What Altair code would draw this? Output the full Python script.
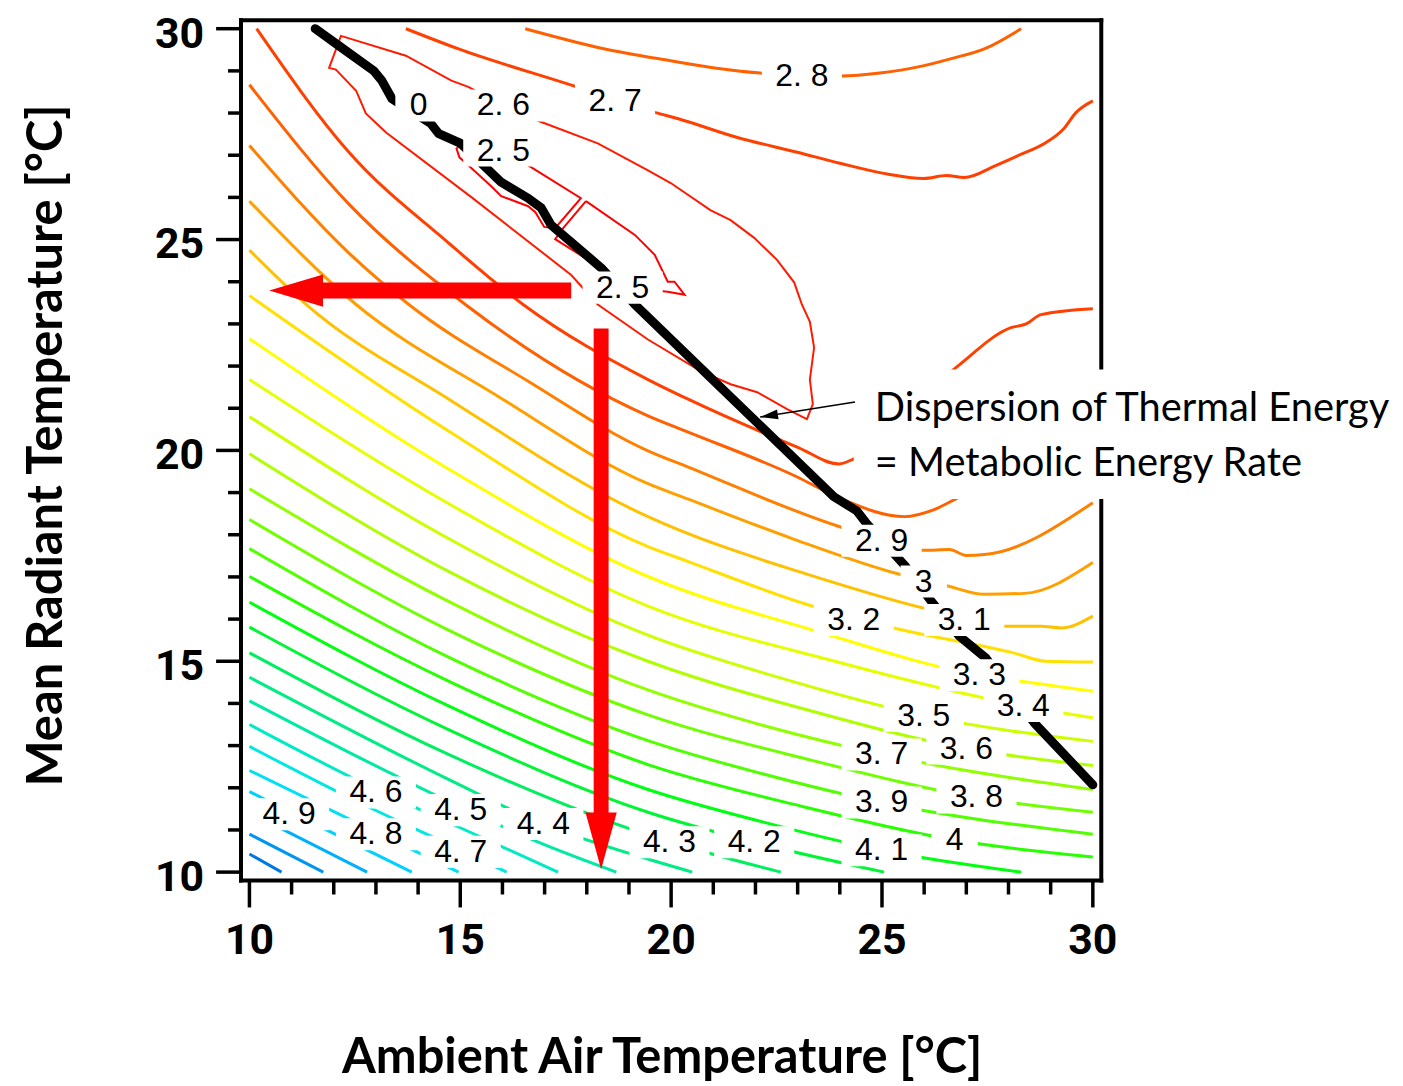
import altair as alt
import pandas as pd

X_DOMAIN = [9.8, 30.2]
Y_DOMAIN = [9.8, 30.2]

levels = ["2.5", "2.6", "2.7", "2.8", "2.9", "3.0", "3.1", "3.2", "3.3", "3.4",
          "3.5", "3.6", "3.7", "3.8", "3.9", "4.0", "4.1", "4.2", "4.3", "4.4",
          "4.5", "4.6", "4.7", "4.8", "4.9", "5.0", "5.1", "5.2"]
level_colors = ["#ff0000", "#ff1a00", "#ff4000", "#ff6000", "#ff8000", "#ffa000",
                "#ffc000", "#ffe000", "#ffff00", "#e6ff00", "#ccff00", "#b0ff00",
                "#90ff00", "#70ff00", "#50ff00", "#28ff00", "#00ff10", "#00f535",
                "#00ef60", "#00ec85", "#00eaa5", "#00eac5", "#00e8e0", "#00e0f5",
                "#00d0ff", "#00b0ff", "#0095f0", "#0078e0"]

# ---- contour lines (x = air temp, y = radiant temp) ----
c_2_7_low = [(10.17, 30.0), (12.36, 27.07), (14.72, 24.92), (16.49, 23.46), (19.45, 21.68),
             (20.39, 21.22), (22.99, 20.08), (23.98, 19.68), (24.33, 19.80), (26.76, 21.97),
             (28.06, 22.91), (28.42, 23.00), (28.77, 23.22), (30.0, 23.36)]
c_2_7_top = [(13.71, 30.0), (14.96, 29.52), (17.67, 28.65), (19.63, 28.01), (20.15, 27.87),
             (21.57, 27.42), (22.99, 27.07), (24.00, 26.81), (25.04, 26.57), (25.99, 26.45),
             (26.53, 26.52), (26.95, 26.47), (27.71, 26.76), (28.25, 27.00), (28.89, 27.30),
             (29.31, 27.63), (29.60, 28.01), (30.0, 28.29)]
c_2_8_top = [(16.54, 30.0), (18.43, 29.52), (19.99, 29.24), (21.03, 29.07), (22.11, 28.95),
             (23.10, 28.90), (24.05, 28.88), (24.95, 28.95), (25.89, 29.10), (26.60, 29.28),
             (27.47, 29.54), (28.30, 30.0)]
c_2_8 = [(10.0, 28.67), (12.36, 25.84), (15.12, 23.46), (19.45, 20.82), (20.39, 20.44),
         (22.99, 19.37), (23.93, 18.90), (25.54, 18.43), (26.22, 18.59), (26.81, 18.88),
         (30.0, 20.39)]
c_2_9 = [(10.0, 27.23), (12.36, 24.68), (13.78, 23.46), (16.61, 21.64), (19.45, 19.99),
         (20.39, 19.61), (24.00, 18.19), (25.99, 17.63), (26.60, 17.65), (27.00, 17.51),
         (27.43, 17.53), (30.0, 18.76)]
c_3_0 = [(10.0, 25.91), (12.53, 23.46), (15.90, 21.28), (19.45, 19.21), (20.39, 18.85),
         (22.87, 17.91), (25.35, 17.08), (26.58, 16.78), (27.40, 16.59), (28.37, 16.61),
         (30.0, 17.34)]
c_3_1 = [(10.0, 24.75), (11.35, 23.46), (14.72, 21.22), (19.45, 18.43), (20.39, 18.03),
         (23.18, 17.08), (25.99, 16.26), (27.95, 15.83), (28.77, 15.83), (29.24, 15.79),
         (30.0, 16.07)]
c_3_2 = [(10.0, 23.67), (14.72, 20.46), (19.45, 17.72), (20.39, 17.37), (23.34, 16.31),
         (25.28, 15.79), (28.11, 15.20), (28.89, 15.00), (30.0, 14.98)]
c_3_3 = [(10.0, 22.65), (14.72, 19.56), (19.45, 17.01), (23.36, 15.74), (27.31, 14.67),
         (28.25, 14.53), (30.0, 14.29)]
c_3_4 = [(10.0, 21.68), (14.72, 18.74), (19.45, 16.31), (23.88, 15.00), (28.35, 13.94),
         (30.0, 13.66)]
c_3_5 = [(10.0, 20.80), (14.72, 17.91), (19.45, 15.62), (22.75, 14.56), (25.99, 13.71),
         (30.0, 13.10)]
c_3_6 = [(10.0, 19.92), (14.72, 17.13), (19.45, 15.00), (23.22, 13.85), (27.00, 12.93),
         (30.0, 12.53)]
c_3_7 = [(10.0, 19.09), (14.72, 16.42), (19.45, 14.32), (22.21, 13.47), (24.99, 12.79),
         (30.0, 11.96)]
c_3_8 = [(10.0, 18.36), (14.72, 15.74), (19.45, 13.73), (23.34, 12.65), (27.24, 11.77),
         (30.0, 11.42)]
c_3_9 = [(10.0, 17.67), (14.72, 15.10), (19.45, 13.12), (22.21, 12.32), (24.99, 11.65),
         (30.0, 10.90)]
c_4_0 = [(10.0, 17.01), (14.72, 14.53), (19.45, 12.55), (23.10, 11.56), (26.72, 10.76),
         (30.0, 10.36)]
c_4_1 = [(10.0, 16.40), (14.72, 13.94), (19.45, 11.96), (22.21, 11.18), (24.99, 10.52),
         (28.30, 10.0)]
c_4_2 = [(10.0, 15.81), (14.72, 13.38), (19.45, 11.42), (21.97, 10.71), (25.05, 10.0)]
c_4_3 = [(10.0, 15.20), (14.72, 12.79), (19.45, 10.88), (22.60, 10.0)]
c_4_4 = [(10.0, 14.62), (14.72, 12.20), (16.97, 11.14), (19.45, 10.31), (20.50, 10.0)]
c_4_5 = [(10.0, 14.06), (12.36, 12.84), (15.01, 11.54), (16.85, 10.71), (18.70, 10.0)]
c_4_6 = [(10.0, 13.50), (13.00, 11.96), (14.96, 11.07), (17.32, 10.0)]
c_4_7 = [(10.0, 12.98), (12.36, 11.77), (15.01, 10.52), (16.10, 10.0)]
c_4_8 = [(10.0, 12.41), (13.00, 10.95), (14.96, 10.0)]
c_4_9 = [(10.0, 11.91), (10.94, 11.44), (13.85, 10.0)]
c_5_0 = [(10.0, 11.42), (10.78, 11.02), (12.79, 10.0)]
c_5_1 = [(10.0, 10.90), (11.75, 10.0)]
c_5_2 = [(10.0, 10.43), (10.76, 10.0)]

smooth_lines = [("2.7", c_2_7_low), ("2.7", c_2_7_top), ("2.8", c_2_8_top), ("2.8", c_2_8),
                ("2.9", c_2_9), ("3.0", c_3_0), ("3.1", c_3_1), ("3.2", c_3_2),
                ("3.3", c_3_3), ("3.4", c_3_4), ("3.5", c_3_5), ("3.6", c_3_6),
                ("3.7", c_3_7), ("3.8", c_3_8), ("3.9", c_3_9), ("4.0", c_4_0),
                ("4.1", c_4_1), ("4.2", c_4_2), ("4.3", c_4_3), ("4.4", c_4_4),
                ("4.5", c_4_5), ("4.6", c_4_6), ("4.7", c_4_7), ("4.8", c_4_8),
                ("4.9", c_4_9), ("5.0", c_5_0), ("5.1", c_5_1), ("5.2", c_5_2)]

loop_2_6 = [(15.19, 28.62), (14.79, 28.77), (13.71, 29.36), (12.17, 29.83), (11.89, 29.07),
            (12.05, 29.03), (12.53, 28.53), (12.76, 27.99), (13.24, 27.54), (15.27, 26.00),
            (17.63, 24.16), (18.26, 23.46), (19.45, 22.63), (20.70, 21.88), (21.41, 21.57),
            (22.04, 21.38), (22.75, 20.98), (23.22, 20.74), (23.36, 21.10), (23.29, 21.68),
            (23.39, 22.44), (23.29, 23.05), (23.10, 23.46), (22.92, 23.98), (22.51, 24.52),
            (21.97, 25.04), (21.41, 25.46), (20.93, 25.70), (19.99, 26.34), (19.45, 26.64),
            (18.26, 27.28), (16.89, 27.80), (16.02, 28.18), (15.19, 28.62)]
loop_2_5a = [(15.08, 27.30), (14.91, 27.16), (14.98, 26.95), (15.19, 26.76), (15.74, 26.26),
             (15.97, 26.03), (16.61, 25.79), (16.78, 25.65), (16.99, 25.30), (17.25, 25.27),
             (17.86, 25.98), (16.61, 26.76), (16.02, 27.11), (15.08, 27.30)]
loop_2_5b = [(17.98, 25.91), (19.14, 25.11), (19.61, 24.64), (19.92, 24.00), (20.08, 24.00),
             (20.32, 23.69), (19.92, 23.76), (18.97, 23.86), (18.43, 24.21), (18.03, 24.52),
             (17.25, 25.01), (17.44, 25.27), (17.98, 25.91)]
loop_lines = [("2.6", loop_2_6), ("2.5", loop_2_5a), ("2.5", loop_2_5b)]

# thick black line: dispersion of thermal energy = metabolic energy rate
zero_line = [(11.56, 30.0), (12.13, 29.59), (12.95, 29.0), (13.14, 28.77), (13.38, 28.34),
             (14.30, 27.75), (14.49, 27.51), (15.01, 27.28), (15.55, 26.76), (15.97, 26.36),
             (16.61, 25.98), (16.92, 25.75), (17.15, 25.35), (18.34, 24.33), (19.14, 23.46),
             (23.86, 18.90), (24.40, 18.57), (24.64, 18.26), (25.54, 17.27), (26.17, 16.42),
             (26.84, 15.59), (27.47, 15.07), (28.61, 13.54), (30.0, 12.07)]

# contour labels
label_text = ["0", "2. 6", "2. 5", "2. 7", "2. 8", "2. 5", "2. 9", "3", "3. 2", "3. 1",
              "3. 3", "3. 4", "3. 5", "3. 6", "3. 7", "3. 8", "3. 9", "4", "4. 1", "4. 2",
              "4. 3", "4. 4", "4. 5", "4. 6", "4. 7", "4. 8", "4. 9"]
label_x = [14.01, 16.02, 16.02, 18.67, 23.10, 18.85, 24.99, 25.99, 24.33, 26.95,
           27.31, 28.35, 25.99, 27.00, 24.99, 27.24, 24.99, 26.72, 24.99, 21.97,
           19.96, 16.97, 15.01, 13.00, 15.01, 13.00, 10.94]
label_y = [28.18, 28.18, 27.11, 28.29, 28.88, 23.86, 17.86, 16.89, 15.98, 15.98,
           14.67, 13.94, 13.71, 12.93, 12.79, 11.77, 11.65, 10.76, 10.52, 10.71,
           10.71, 11.14, 11.47, 11.89, 10.48, 10.90, 11.37]

# red arrows (start, tip)
h_arrow_x = [17.63, 10.47]
h_arrow_y = 23.79
v_arrow_x = 18.34
v_arrow_y = [22.89, 10.07]

# annotation
note_lines = ["Dispersion of Thermal Energy", "= Metabolic Energy Rate"]
note_x = 24.83
note_y = [20.98, 19.68]
note_arrow_from = (24.36, 21.15)
note_arrow_to = (22.11, 20.79)
note_box = (24.33, 37.2, 18.85, 21.92)

major_ticks = [10, 15, 20, 25, 30]
minor_ticks = [v for v in range(11, 30) if v % 5 != 0]
x_title = "Ambient Air Temperature [°C]"
y_title = "Mean Radiant Temperature [°C]"

TICK_FONT = "Roboto, Liberation Sans, sans-serif"
TITLE_FONT = "Lato, sans-serif"
LABEL_FONT = "Liberation Sans, Arial, sans-serif"

PLOT_W = 864
PLOT_H = 864

xs = alt.Scale(domain=X_DOMAIN, nice=False, zero=False)
ys = alt.Scale(domain=Y_DOMAIN, nice=False, zero=False)


def X(field):
    return alt.X(field, type="quantitative", scale=xs, axis=None)


def Y(field):
    return alt.Y(field, type="quantitative", scale=ys, axis=None)


def lines_frame(lines, prefix):
    rows = []
    for i, (lev, pts) in enumerate(lines):
        for j, (x, y) in enumerate(pts):
            rows.append({"id": f"{prefix}{i}", "level": lev, "o": j, "x": x, "y": y})
    return pd.DataFrame(rows)


color_enc = alt.Color("level:N", scale=alt.Scale(domain=levels, range=level_colors), legend=None)

# ---- frame ----
frame_df = pd.DataFrame({
    "x": [X_DOMAIN[0], X_DOMAIN[0], X_DOMAIN[0], X_DOMAIN[1]],
    "x2": [X_DOMAIN[1], X_DOMAIN[1], X_DOMAIN[0], X_DOMAIN[1]],
    "y": [Y_DOMAIN[1], Y_DOMAIN[0], Y_DOMAIN[0], Y_DOMAIN[0]],
    "y2": [Y_DOMAIN[1], Y_DOMAIN[0], Y_DOMAIN[1], Y_DOMAIN[1]],
})
frame = alt.Chart(frame_df).mark_rule(color="black", strokeWidth=4, strokeCap="square").encode(
    x=X("x"), x2="x2", y=Y("y"), y2="y2")

# ---- axes: ticks, tick labels and titles ----
major_df = pd.DataFrame({"v": major_ticks, "t": [str(v) for v in major_ticks]})
minor_df = pd.DataFrame({"v": minor_ticks})
tick_rule = dict(color="black", strokeWidth=3.5, strokeCap="butt")
major_x = alt.Chart(major_df).mark_rule(**tick_rule).encode(
    x=X("v"), y=alt.value(PLOT_H), y2=alt.value(PLOT_H + 27))
minor_x = alt.Chart(minor_df).mark_rule(**tick_rule).encode(
    x=X("v"), y=alt.value(PLOT_H), y2=alt.value(PLOT_H + 14))
major_y = alt.Chart(major_df).mark_rule(**tick_rule).encode(
    y=Y("v"), x=alt.value(0), x2=alt.value(-25))
minor_y = alt.Chart(minor_df).mark_rule(**tick_rule).encode(
    y=Y("v"), x=alt.value(0), x2=alt.value(-13))
xlab = alt.Chart(major_df).mark_text(font=TICK_FONT, fontSize=43, fontWeight="bold",
                                     color="black", align="center", baseline="middle").encode(
    x=X("v"), y=alt.value(925), text="t:N")
ylab = alt.Chart(major_df).mark_text(font=TICK_FONT, fontSize=43, fontWeight="bold",
                                     color="black", align="right", baseline="middle").encode(
    y=Y("v"), x=alt.value(-37), text="t:N", yOffset=alt.value(6))
xtitle = alt.Chart(pd.DataFrame({"t": [x_title]})).mark_text(
    font=TITLE_FONT, fontSize=49, fontWeight="bold", color="black", align="center",
    baseline="middle").encode(x=alt.value(423), y=alt.value(1042), text="t:N")
ytitle = alt.Chart(pd.DataFrame({"t": [y_title]})).mark_text(
    font=TITLE_FONT, fontSize=49, fontWeight="bold", color="black", align="center",
    baseline="middle", angle=270).encode(x=alt.value(-195), y=alt.value(427), text="t:N")

# ---- contours ----
smooth_df = lines_frame(smooth_lines, "s")
smooth = alt.Chart(smooth_df).mark_line(strokeWidth=3, interpolate="monotone").encode(
    x=X("x"), y=Y("y"), detail="id:N", order="o:Q", color=color_enc)

loop_df = lines_frame(loop_lines, "l")
loops = alt.Chart(loop_df).mark_line(strokeWidth=2, interpolate="linear").encode(
    x=X("x"), y=Y("y"), detail="id:N", order="o:Q", color=color_enc)

zero_df = pd.DataFrame({"x": [p[0] for p in zero_line], "y": [p[1] for p in zero_line],
                        "o": list(range(len(zero_line)))})
zero = alt.Chart(zero_df).mark_line(color="black", strokeWidth=9, strokeCap="round",
                                    strokeJoin="round").encode(x=X("x"), y=Y("y"), order="o:Q")

# ---- labels with white boxes ----
lab_df = pd.DataFrame({"t": label_text, "x": label_x, "y": label_y})
half_w = [0.55 if len(t) == 1 else 0.95 for t in label_text]
lab_df["x0"] = lab_df["x"] - half_w
lab_df["x1"] = lab_df["x"] + half_w
lab_df["y0"] = lab_df["y"] - 0.38
lab_df["y1"] = lab_df["y"] + 0.38
lab_boxes = alt.Chart(lab_df).mark_rect(color="white").encode(
    x=X("x0"), x2="x1", y=Y("y0"), y2="y1")
lab_text = alt.Chart(lab_df).mark_text(font=LABEL_FONT, fontSize=32, color="black",
                                       align="center", baseline="middle").encode(
    x=X("x"), y=Y("y"), text="t:N")

# ---- red arrows ----
head_len_x = 1.27
head_len_y = 1.35
shaft_h = alt.Chart(pd.DataFrame({"x": [h_arrow_x[0]], "x2": [h_arrow_x[1] + head_len_x * 0.8],
                                  "y": [h_arrow_y]})).mark_rule(
    color="#ff0000", strokeWidth=16, strokeCap="butt").encode(x=X("x"), x2="x2", y=Y("y"))
shaft_v = alt.Chart(pd.DataFrame({"x": [v_arrow_x], "y": [v_arrow_y[0]],
                                  "y2": [v_arrow_y[1] + head_len_y * 0.8]})).mark_rule(
    color="#ff0000", strokeWidth=15, strokeCap="butt").encode(x=X("x"), y=Y("y"), y2="y2")
head_h = alt.Chart(pd.DataFrame({"x": [h_arrow_x[1]], "y": [h_arrow_y]})).mark_point(
    shape="M 0 0 L 2 -0.6 L 2 0.6 Z", size=2916, filled=True, color="#ff0000", opacity=1,
    strokeWidth=0).encode(x=X("x"), y=Y("y"))
head_v = alt.Chart(pd.DataFrame({"x": [v_arrow_x], "y": [v_arrow_y[1]]})).mark_point(
    shape="M 0 0 L -0.55 -2 L 0.55 -2 Z", size=3249, filled=True, color="#ff0000", opacity=1,
    strokeWidth=0).encode(x=X("x"), y=Y("y"))

# ---- annotation ----
box = alt.Chart(pd.DataFrame({"x": [note_box[0]], "x2": [note_box[1]], "y": [note_box[2]],
                              "y2": [note_box[3]]})).mark_rect(color="white").encode(
    x=X("x"), x2="x2", y=Y("y"), y2="y2")
note_df = pd.DataFrame({"t": note_lines, "x": [note_x, note_x], "y": note_y})
note = alt.Chart(note_df).mark_text(font=TITLE_FONT, fontSize=40, color="black", align="left",
                                    baseline="middle").encode(x=X("x"), y=Y("y"), text="t:N")
note_rule = alt.Chart(pd.DataFrame({"x": [note_arrow_from[0]], "y": [note_arrow_from[1]],
                                    "x2": [note_arrow_to[0]], "y2": [note_arrow_to[1]]})).mark_rule(
    color="black", strokeWidth=1.5).encode(x=X("x"), x2="x2", y=Y("y"), y2="y2")
note_head = alt.Chart(pd.DataFrame({"x": [note_arrow_to[0]], "y": [note_arrow_to[1]]})).mark_point(
    shape="M 0 0 L 2 -0.55 L 2 0.55 Z", size=324, angle=351, filled=True, color="black",
    opacity=1, strokeWidth=0).encode(x=X("x"), y=Y("y"))

chart = alt.layer(smooth, loops, zero, lab_boxes, lab_text,
                  shaft_h, shaft_v, head_h, head_v, frame, major_x, minor_x, major_y, minor_y,
                  xlab, ylab, xtitle, ytitle, box, note_rule, note_head, note).properties(
    width=PLOT_W, height=PLOT_H,
    padding={"left": 234, "top": 10, "right": 295, "bottom": 201},
    autosize=alt.AutoSizeParams(type="none"),
    background="white",
).configure_view(stroke=None)

chart.save("out.html", embed_options={"renderer": "svg", "actions": False})
